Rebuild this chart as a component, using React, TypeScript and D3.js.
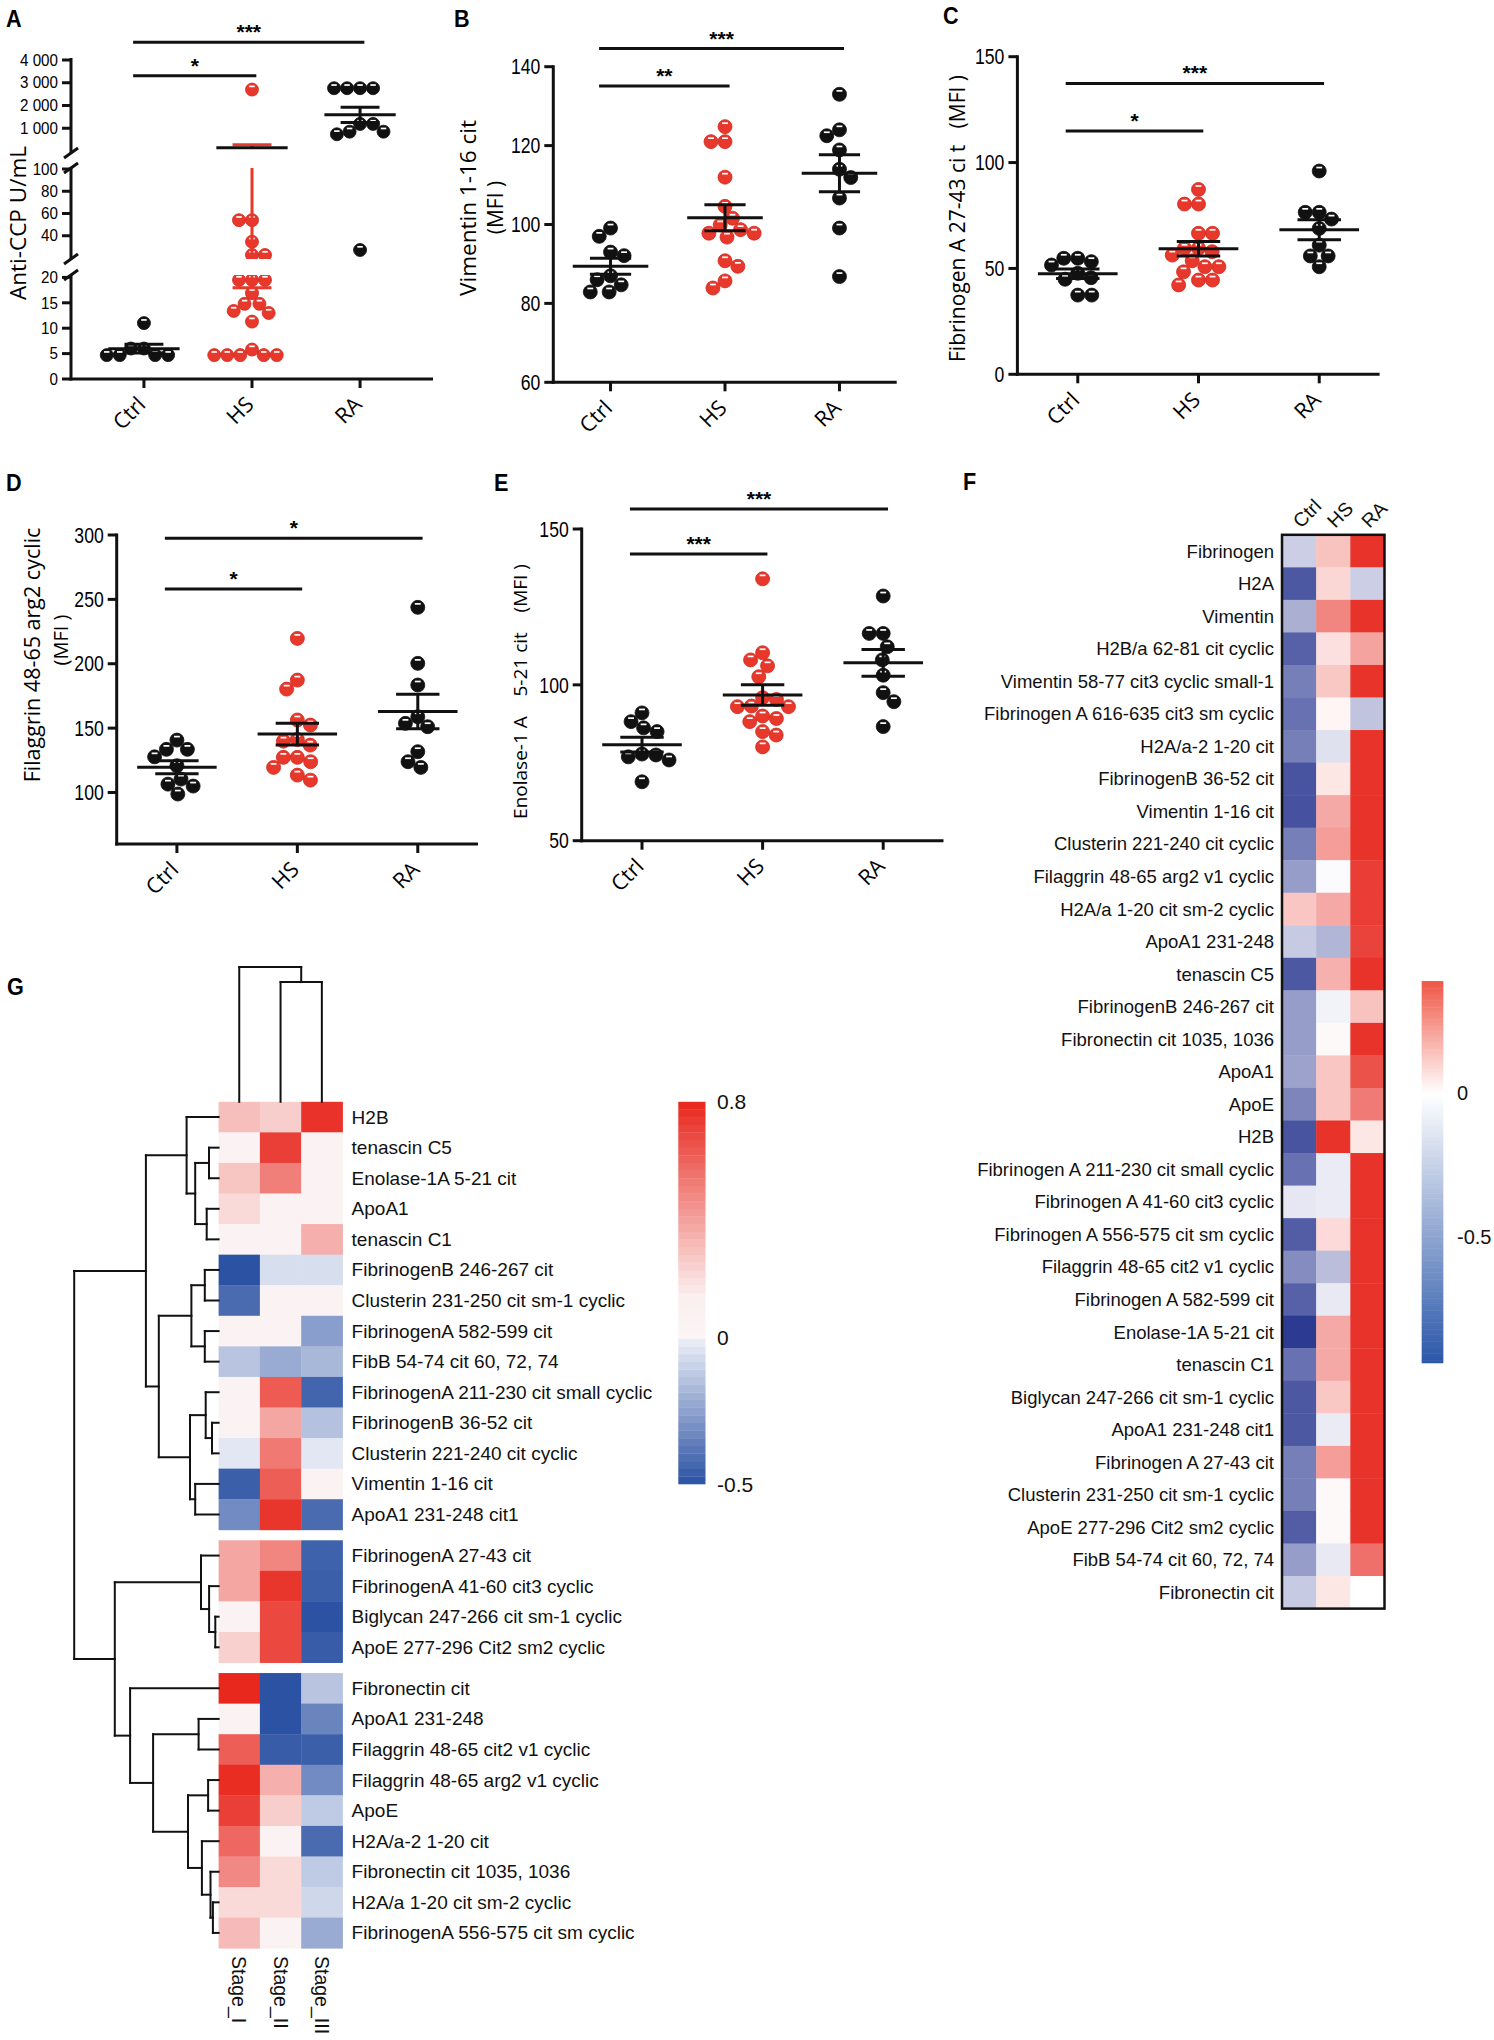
import React, { useEffect } from 'react';
import * as d3 from 'd3';

const RED = '#e8372b';
const INK = '#111111';
const SANS = '"Liberation Sans", Arial, Helvetica, sans-serif';
const OPEN = '"Open Sans", "Liberation Sans", Arial, sans-serif';

const groups = ['Ctrl', 'HS', 'RA'];

// ---------- A: Anti-CCP U/mL (broken axis)
const antiCcpCtrl = [11, 6.0, 6.0, 4.7, 4.7, 4.7, 4.7];
const antiCcpHS = [2700, 54, 54, 34.6, 22.7, 22.7, 19.5, 19.5, 19.5, 16.9, 14.8, 14.8, 13.4, 13.0, 11.3, 5.8, 4.7, 4.7, 4.7, 4.7, 4.7];
const antiCcpRA = [2760, 2760, 2760, 2760, 1190, 1190, 850, 850, 735, 27.2];
const antiCcpTicksTop = [1000, 2000, 3000, 4000];
const antiCcpTickLabelsTop = ['1 000', '2 000', '3 000', '4 000'];
const antiCcpTicksMid = [40, 60, 80, 100];
const antiCcpTicksLow = [0, 5, 10, 15, 20];
const antiCcpSig = [
  { from: 'Ctrl', to: 'HS', at: 3308, label: '*' },
  { from: 'Ctrl', to: 'RA', at: 4777, label: '***' },
];

// ---------- B: Vimentin 1-16 cit
const vimCtrl = [99.1, 97.0, 93.0, 92.1, 87.0, 86.0, 84.7, 82.9, 82.9];
const vimHS = [124.8, 121, 121, 112, 104.6, 101.6, 99.9, 98.7, 97.8, 97.8, 96.8, 90.8, 89.4, 85.7, 83.9];
const vimRA = [133, 124, 122.5, 118.9, 114, 111.9, 106.7, 99.1, 86.8];
const vimTicks = [60, 80, 100, 120, 140];
const vimSig = [
  { from: 'Ctrl', to: 'HS', at: 135.1, label: '**' },
  { from: 'Ctrl', to: 'RA', at: 144.6, label: '***' },
];

// ---------- C: Fibrinogen A 27-43 cit
const fibCtrl = [54.8, 54.8, 53.2, 51.6, 47.7, 44.9, 45.6, 37.4, 37.4];
const fibHS = [87.3, 80.4, 80.4, 66.6, 66.6, 59.5, 59.5, 57.9, 56.3, 53.6, 50.8, 50.8, 48.4, 44.5, 44.5, 42.2];
const fibRA = [96, 76.5, 76.5, 73.3, 68.9, 61, 55.9, 55.9, 50.8];
const fibTicks = [0, 50, 100, 150];
const fibSig = [
  { from: 'Ctrl', to: 'HS', at: 114.9, label: '*' },
  { from: 'Ctrl', to: 'RA', at: 137.4, label: '***' },
];

// ---------- D: Filaggrin 48-65 arg2 cyclic
const filCtrl = [140.7, 133.5, 133.5, 127.7, 120.8, 110.4, 106.5, 105.0, 98.8];
const filHS = [219.7, 187.3, 180.3, 156.3, 152.4, 141.2, 139.9, 136.8, 127.3, 127.3, 123.9, 119.5, 113.5, 109.6];
const filRA = [243.8, 200.3, 183.5, 158.8, 153.7, 151.1, 131.7, 123.9, 119.5];
const filTicks = [100, 150, 200, 250, 300];
const filSig = [
  { from: 'Ctrl', to: 'HS', at: 258, label: '*' },
  { from: 'Ctrl', to: 'RA', at: 297.4, label: '*' },
];

// ---------- E: Enolase-1 A 5-21 cit
const enoCtrl = [91.0, 88.2, 86.2, 85.0, 77.8, 77.5, 76.9, 75.9, 68.9];
const enoHS = [134, 110.3, 108, 106.1, 102.6, 95.9, 95.3, 93.2, 93.0, 93.0, 90.0, 89.2, 88.2, 85.0, 83.9, 80.1];
const enoRA = [128.5, 116.5, 116.5, 112.2, 108, 103.1, 97.5, 94.6, 86.6];
const enoTicks = [50, 100, 150];
const enoSig = [
  { from: 'Ctrl', to: 'HS', at: 142, label: '***' },
  { from: 'Ctrl', to: 'RA', at: 156.4, label: '***' },
];

// ---------- F: heatmap Ctrl / HS / RA
const fRows = [
  'Fibrinogen', 'H2A', 'Vimentin', 'H2B/a 62-81 cit cyclic', 'Vimentin 58-77 cit3 cyclic small-1',
  'Fibrinogen A 616-635 cit3 sm cyclic', 'H2A/a-2 1-20 cit', 'FibrinogenB 36-52 cit', 'Vimentin 1-16 cit',
  'Clusterin 221-240 cit cyclic', 'Filaggrin 48-65 arg2 v1 cyclic', 'H2A/a 1-20 cit sm-2 cyclic', 'ApoA1 231-248',
  'tenascin C5', 'FibrinogenB 246-267 cit', 'Fibronectin cit 1035, 1036', 'ApoA1', 'ApoE', 'H2B',
  'Fibrinogen A 211-230 cit small cyclic', 'Fibrinogen A 41-60 cit3 cyclic', 'Fibrinogen A 556-575 cit sm cyclic',
  'Filaggrin 48-65 cit2 v1 cyclic', 'Fibrinogen A 582-599 cit', 'Enolase-1A 5-21 cit', 'tenascin C1',
  'Biglycan 247-266 cit sm-1 cyclic', 'ApoA1 231-248 cit1', 'Fibrinogen A 27-43 cit', 'Clusterin 231-250 cit sm-1 cyclic',
  'ApoE 277-296 Cit2 sm2 cyclic', 'FibB 54-74 cit 60, 72, 74', 'Fibronectin cit',
];
const fCtrl = [-0.25, -0.85, -0.4, -0.8, -0.65, -0.72, -0.65, -0.87, -0.88, -0.65, -0.5, 0.28, -0.27, -0.85, -0.5, -0.5, -0.47, -0.62, -0.87, -0.72, -0.12, -0.82, -0.58, -0.8, -1.0, -0.72, -0.85, -0.85, -0.65, -0.65, -0.82, -0.5, -0.27];
const fHS = [0.3, 0.2, 0.6, 0.15, 0.27, 0.05, -0.15, 0.12, 0.42, 0.48, -0.02, 0.42, -0.37, 0.38, -0.06, 0.03, 0.28, 0.28, 1.0, -0.1, -0.1, 0.18, -0.33, -0.11, 0.42, 0.42, 0.27, -0.1, 0.48, 0.03, 0.03, -0.11, 0.12];
const fRA = [1, -0.25, 1, 0.45, 1, -0.3, 1, 1, 1, 1, 0.95, 0.95, 0.92, 1, 0.3, 1, 0.85, 0.65, 0.12, 1, 1, 1, 1, 1, 1, 1, 1, 1, 1, 1, 1, 0.7, 0.0];
const fLegendMin = -0.94;
const fLegendMax = 0.39;
const fLegendTicks = [0, -0.5];

// ---------- G: clustered heatmap by stage
const stages = ['Stage_I', 'Stage_II', 'Stage_III'];
const gRows = [
  'H2B', 'tenascin C5', 'Enolase-1A 5-21 cit', 'ApoA1', 'tenascin C1', 'FibrinogenB 246-267 cit',
  'Clusterin 231-250 cit sm-1 cyclic', 'FibrinogenA 582-599 cit', 'FibB 54-74 cit 60, 72, 74',
  'FibrinogenA 211-230 cit small cyclic', 'FibrinogenB 36-52 cit', 'Clusterin 221-240 cit cyclic',
  'Vimentin 1-16 cit', 'ApoA1 231-248 cit1', 'FibrinogenA 27-43 cit', 'FibrinogenA 41-60 cit3 cyclic',
  'Biglycan 247-266 cit sm-1 cyclic', 'ApoE 277-296 Cit2 sm2 cyclic', 'Fibronectin cit', 'ApoA1 231-248',
  'Filaggrin 48-65 cit2 v1 cyclic', 'Filaggrin 48-65 arg2 v1 cyclic', 'ApoE', 'H2A/a-2 1-20 cit',
  'Fibronectin cit 1035, 1036', 'H2A/a 1-20 cit sm-2 cyclic', 'FibrinogenA 556-575 cit sm cyclic',
];
const gStageI = [0.30, 0.05, 0.28, 0.21, 0.05, -0.5, -0.42, 0.05, -0.14, 0.05, 0.05, -0.03, -0.46, -0.32, 0.38, 0.38, 0.05, 0.24, 0.8, 0.05, 0.62, 0.78, 0.72, 0.59, 0.48, 0.21, 0.31];
const gStageII = [0.25, 0.72, 0.51, 0.05, 0.05, -0.06, 0.05, 0.05, -0.22, 0.63, 0.38, 0.53, 0.62, 0.75, 0.49, 0.75, 0.69, 0.69, -0.5, -0.5, -0.47, 0.35, 0.25, 0.05, 0.21, 0.21, 0.05];
const gStageIII = [0.76, 0.05, 0.04, 0.05, 0.35, -0.06, 0.05, -0.26, -0.18, -0.44, -0.15, -0.03, 0.05, -0.42, -0.45, -0.46, -0.5, -0.47, -0.14, -0.34, -0.46, -0.32, -0.12, -0.42, -0.12, -0.08, -0.22];
const gRowGroupSizes = [14, 4, 9];
const gLegendMin = -0.5;
const gLegendMax = 0.8;
const gLegendTicks = [0.8, 0, -0.5];

type Tree = number | { h: number; c: [Tree, Tree] };
const gRowTree: Tree = {
  h: 144.4, c: [
    { h: 72.7, c: [
      { h: 32, c: [0, { h: 23.4, c: [{ h: 9.6, c: [1, 2] }, { h: 11.9, c: [3, 4] }] }] },
      { h: 59.8, c: [
        { h: 27.2, c: [{ h: 13.8, c: [5, 6] }, { h: 13.8, c: [7, 8] }] },
        { h: 28.6, c: [{ h: 12.9, c: [9, { h: 6.6, c: [10, 11] }] }, { h: 23.4, c: [12, 13] }] },
      ] },
    ] },
    { h: 103.8, c: [
      { h: 17.6, c: [14, { h: 9.5, c: [15, { h: 3.3, c: [16, 17] }] }] },
      { h: 88.5, c: [18, { h: 65.5, c: [
        { h: 20, c: [19, 20] },
        { h: 30.6, c: [{ h: 10.5, c: [21, 22] }, { h: 16.7, c: [23, { h: 8.1, c: [24, { h: 5.7, c: [25, 26] }] }] }] },
      ] }] },
    ] },
  ],
};
const gColTree: Tree = { h: 134.7, c: [0, { h: 119.7, c: [1, 2] }] };

// ---------------------------------------------------------------
type Seg = { domain: [number, number]; range: [number, number]; axis: [number, number]; accept: [number, number]; ticks: number[]; labels?: string[] };
type Sig = { from: string; to: string; at: number; label: string };
type Title = { text: string; x: number; y: number; size: number };
type Panel = {
  id: string; letter: string; lx: number; ly: number;
  left: number; right: number; bottom: number; pad: number;
  segs: Seg[]; series: number[][]; sig: Sig[]; titles: Title[];
  tickSize: number; tickSX: number; r: number; errColors: string[];
};

function swarm(ys: number[], r: number): number[] {
  const d = 2 * r;
  const idx = ys.map((_, i) => i).sort((a, b) => ys[a] - ys[b]);
  const placed: { x: number; y: number }[] = [];
  const out = new Array(ys.length).fill(0);
  let flip = 1;
  for (const i of idx) {
    const y = ys[i];
    const cands = [0];
    for (const p of placed) {
      const dy = Math.abs(p.y - y);
      if (dy < d) {
        const o = Math.sqrt(d * d - dy * dy);
        cands.push(p.x + o, p.x - o);
      }
    }
    const ok = (x: number) => placed.every(p => (p.x - x) ** 2 + (p.y - y) ** 2 >= d * d - 0.5);
    const valid = cands.filter(ok);
    valid.sort((a, b) => {
      const da = Math.abs(a), db = Math.abs(b);
      if (Math.abs(da - db) > 0.05) return da - db;
      return (a - b) * flip;
    });
    const x = valid.length ? valid[0] : 0;
    if (Math.abs(x) > 0.05) flip = -flip;
    out[i] = x;
    placed.push({ x, y });
  }
  return out;
}

function Dot({ x, y, r, red }: { x: number; y: number; r: number; red: boolean }) {
  return (
    <g>
      <circle cx={x} cy={y} r={r} fill={red ? RED : INK} stroke={red ? '#cf2a1f' : INK} strokeWidth={0.8} />
      <rect x={x - r * 0.42} y={y - r * 0.62} width={r * 0.84} height={1.7} fill="#ffffff" />
    </g>
  );
}

function Letter({ x, y, ch }: { x: number; y: number; ch: string }) {
  return (
    <text x={0} y={0} transform={`translate(${x},${y}) scale(0.9,1)`} fontFamily={SANS} fontWeight="bold" fontSize={24} fill="#000">{ch}</text>
  );
}

function ScatterPanel({ p }: { p: Panel }) {
  const x = d3.scalePoint<string>().domain(groups).range([p.left, p.right]).padding(p.pad);
  const step = x.step();
  const sc = (s: Seg) => d3.scaleLinear().domain(s.domain).range(s.range);
  const segOf = (v: number) => p.segs.find(s => v >= s.accept[0] && v < s.accept[1]) || p.segs[p.segs.length - 1];
  const yOf = (v: number) => sc(segOf(v))(v);
  const broken = p.segs.length > 1;

  const groupsData = p.series.map((vals, gi) => {
    const ys = vals.map(yOf);
    const dx = swarm(ys, p.r);
    const m = d3.mean(vals) as number;
    const sem = (d3.deviation(vals) as number) / Math.sqrt(vals.length);
    return { gi, vals, ys, dx, m, sem, cx: x(groups[gi]) as number };
  });

  const lw = 3;
  return (
    <g>
      {broken && (
        <defs>
          {p.segs.map((s, k) => (
            <clipPath id={`${p.id}-clip-${k}`} key={k}>
              <rect x={p.left + 1} y={s.axis[0]} width={p.right - p.left + 20} height={s.axis[1] - s.axis[0]} />
            </clipPath>
          ))}
        </defs>
      )}
      <Letter x={p.lx} y={p.ly} ch={p.letter} />

      {p.segs.map((s, k) => {
        const y = sc(s);
        return (
          <g key={k} clipPath={broken ? `url(#${p.id}-clip-${k})` : undefined}>
            {groupsData.map(g => g.vals.map((v, i) => (segOf(v) === s ? (
              <Dot key={`${g.gi}-${i}`} x={g.cx + g.dx[i]} y={g.ys[i]} r={p.r} red={g.gi === 1} />
            ) : null)))}
            {groupsData.map(g => {
              const lo = Math.max(g.m - g.sem, s.accept[0]);
              const hi = Math.min(g.m + g.sem, s.accept[1]);
              const ec = p.errColors[g.gi];
              return (
                <g key={`e${g.gi}`}>
                  {lo < hi && <line x1={g.cx} x2={g.cx} y1={y(lo)} y2={y(hi)} stroke={ec} strokeWidth={lw} />}
                  {[g.m - g.sem, g.m + g.sem].map((v, j) => segOf(v) === s ? (
                    <line key={j} x1={g.cx - step * 0.18} x2={g.cx + step * 0.18} y1={y(v)} y2={y(v)} stroke={ec} strokeWidth={lw} />
                  ) : null)}
                  {segOf(g.m) === s && (
                    <line x1={g.cx - step * 0.33} x2={g.cx + step * 0.33} y1={y(g.m)} y2={y(g.m)} stroke={INK} strokeWidth={lw} />
                  )}
                </g>
              );
            })}
          </g>
        );
      })}

      {p.segs.map((s, k) => {
        const y = sc(s);
        const isLast = k === p.segs.length - 1;
        return (
          <g key={`ax${k}`}>
            <line x1={p.left} x2={p.left} y1={s.axis[0]} y2={isLast ? s.axis[1] + 1.5 : s.axis[1]} stroke={INK} strokeWidth={lw} />
            {broken && k < p.segs.length - 1 && (
              <line x1={p.left - 7} y1={s.axis[1] + 5} x2={p.left + 7} y2={s.axis[1] - 5} stroke={INK} strokeWidth={lw} />
            )}
            {broken && k > 0 && (
              <line x1={p.left - 7} y1={s.axis[0] + 5} x2={p.left + 7} y2={s.axis[0] - 5} stroke={INK} strokeWidth={lw} />
            )}
            {s.ticks.map((t, i) => (
              <g key={t}>
                <line x1={p.left - 9} x2={p.left} y1={y(t)} y2={y(t)} stroke={INK} strokeWidth={lw} />
                <text transform={`translate(${p.left - 13},${y(t)}) scale(${p.tickSX},1)`} textAnchor="end" dominantBaseline="central"
                  fontFamily={SANS} fontSize={p.tickSize} fill="#000">{s.labels ? s.labels[i] : String(t)}</text>
              </g>
            ))}
          </g>
        );
      })}

      <line x1={p.left - 1.5} x2={p.right} y1={p.bottom} y2={p.bottom} stroke={INK} strokeWidth={lw} />
      {groups.map(gname => {
        const cx = x(gname) as number;
        return (
          <g key={gname}>
            <line x1={cx} x2={cx} y1={p.bottom} y2={p.bottom + 9} stroke={INK} strokeWidth={lw} />
            <text transform={`translate(${cx + 3},${p.bottom + 27}) rotate(-45)`} textAnchor="end" fontFamily={OPEN} fontSize={21.5} fill="#000">{gname}</text>
          </g>
        );
      })}

      {p.titles.map((t, i) => (
        <text key={i} transform={`translate(${t.x},${t.y}) rotate(-90)`} textAnchor="middle" dominantBaseline="central"
          fontFamily={OPEN} fontSize={t.size} fill="#000" style={{ whiteSpace: 'pre' }}>{t.text}</text>
      ))}

      {p.sig.map((s, i) => {
        const yb = yOf(s.at);
        const x1 = (x(s.from) as number) - step * 0.1;
        const x2 = (x(s.to) as number) + step * 0.04;
        return (
          <g key={i}>
            <line x1={x1} x2={x2} y1={yb} y2={yb} stroke={INK} strokeWidth={lw} />
            <text x={(x1 + x2) / 2} y={yb - 3} textAnchor="middle" fontFamily={SANS} fontWeight="bold" fontSize={21} fill="#000">{s.label}</text>
          </g>
        );
      })}
    </g>
  );
}

function dendro(t: Tree, leafPos: (i: number) => number, hPos: (h: number) => number, lines: number[][]): [number, number] {
  if (typeof t === 'number') return [leafPos(t), hPos(0)];
  const [p1, q1] = dendro(t.c[0], leafPos, hPos, lines);
  const [p2, q2] = dendro(t.c[1], leafPos, hPos, lines);
  const q = hPos(t.h);
  lines.push([p1, q1, p1, q], [p2, q2, p2, q], [p1, q, p2, q]);
  return [(p1 + p2) / 2, q];
}

function HeatmapF() {
  const x = d3.scaleBand<string>().domain(groups).range([1282, 1384.5]);
  const y = d3.scaleBand<number>().domain(d3.range(fRows.length)).range([534.8, 1608.6]);
  const cols = [fCtrl, fHS, fRA];
  const color = d3.scaleLinear<string>().domain([-1, 0, 1]).range(['#2d3a92', '#ffffff', '#e8332a']);
  const legColor = d3.scaleLinear<string>().domain([fLegendMin, 0, fLegendMax]).range(['#2a56a8', '#ffffff', '#ef5646']);
  const leg = d3.scaleLinear().domain([-0.5, 0]).range([1236.5, 1093]);
  const nSteps = 160;
  const stepV = (fLegendMax - fLegendMin) / nSteps;
  return (
    <g>
      <Letter x={963} y={490} ch="F" />
      {cols.map((vals, ci) => vals.map((v, ri) => (
        <rect key={`${ci}-${ri}`} x={x(groups[ci])} y={y(ri)} width={x.bandwidth() + 0.4} height={y.bandwidth() + 0.4} fill={color(v)} />
      )))}
      <rect x={1282} y={534.8} width={1384.5 - 1282} height={1608.6 - 534.8} fill="none" stroke={INK} strokeWidth={2.5} />
      {fRows.map((name, ri) => (
        <text key={ri} x={1274} y={(y(ri) as number) + y.bandwidth() / 2} textAnchor="end" dominantBaseline="central"
          fontFamily={SANS} fontSize={18.5} fill="#111">{name}</text>
      ))}
      {groups.map(gname => (
        <text key={gname} transform={`translate(${(x(gname) as number) + x.bandwidth() / 2 + 2},529) rotate(-45)`} fontFamily={SANS} fontSize={19.5} fill="#111">{gname}</text>
      ))}
      {d3.range(nSteps).map(i => {
        const v0 = fLegendMin + i * stepV;
        return <rect key={i} x={1421.7} width={21.6} y={leg(v0 + stepV)} height={leg(v0) - leg(v0 + stepV) + 0.5} fill={legColor(v0 + stepV / 2)} />;
      })}
      {fLegendTicks.map(t => (
        <text key={t} x={1457} y={leg(t)} dominantBaseline="central" fontFamily={SANS} fontSize={20} fill="#111">{String(t)}</text>
      ))}
    </g>
  );
}

function HeatmapG() {
  const x = d3.scaleBand<string>().domain(stages).range([218.6, 342.5]);
  const rowH = 30.57, gap = 10.5, top = 1101.8;
  const bounds = d3.cumsum(gRowGroupSizes);
  const grp = (i: number) => bounds.filter(b => b <= i).length;
  const rowTop = (i: number) => top + i * rowH + grp(i) * gap;
  const cols = [gStageI, gStageII, gStageIII];
  const color = d3.scaleLinear<string>().domain([-0.5, 0, 0.0001, 0.14, 0.8])
    .range(['#2c52a3', '#eef1f8', '#fbf5f5', '#fbefef', '#e8271d']).clamp(true);
  const leg = d3.scaleLinear().domain([gLegendMin, gLegendMax]).range([1484, 1101.8]);
  const nBands = 50;
  const bandV = (gLegendMax - gLegendMin) / nBands;

  const rowLines: number[][] = [];
  const rowH0 = d3.scaleLinear().domain([0, 144.4]).range([218.6, 74.2]);
  dendro(gRowTree, i => rowTop(i) + rowH / 2, rowH0, rowLines);
  const colLines: number[][] = [];
  const colH0 = d3.scaleLinear().domain([0, 134.7]).range([1101.8, 967.1]);
  dendro(gColTree, i => (x(stages[i]) as number) + x.bandwidth() / 2, colH0, colLines);

  return (
    <g>
      <Letter x={7} y={995} ch="G" />
      {cols.map((vals, ci) => vals.map((v, ri) => (
        <rect key={`${ci}-${ri}`} x={x(stages[ci])} y={rowTop(ri)} width={x.bandwidth() + 0.4} height={rowH + 0.4} fill={color(v)} />
      )))}
      {gRows.map((name, ri) => (
        <text key={ri} x={351.6} y={rowTop(ri) + rowH / 2} dominantBaseline="central" fontFamily={SANS} fontSize={19} fill="#111">{name}</text>
      ))}
      {stages.map(s => (
        <text key={s} transform={`translate(${(x(s) as number) + x.bandwidth() / 2},1956) rotate(90)`} dominantBaseline="central"
          fontFamily={SANS} fontSize={19.5} fill="#111">{s}</text>
      ))}
      {rowLines.map((l, i) => (
        <line key={`r${i}`} x1={l[1]} y1={l[0]} x2={l[3]} y2={l[2]} stroke={INK} strokeWidth={2} strokeLinecap="square" />
      ))}
      {colLines.map((l, i) => (
        <line key={`c${i}`} x1={l[0]} y1={l[1]} x2={l[2]} y2={l[3]} stroke={INK} strokeWidth={2} strokeLinecap="square" />
      ))}
      {d3.range(nBands).map(i => {
        const v0 = gLegendMin + i * bandV;
        return <rect key={i} x={678.3} width={27.2} y={leg(v0 + bandV)} height={leg(v0) - leg(v0 + bandV) + 0.3} fill={color(v0 + bandV / 2)} />;
      })}
      {gLegendTicks.map(t => (
        <text key={t} x={717} y={leg(t)} dominantBaseline="central" fontFamily={SANS} fontSize={21} fill="#111">{String(t)}</text>
      ))}
    </g>
  );
}

export default function App() {
  useEffect(() => {
    document.body.style.margin = '0';
    document.body.style.overflow = 'hidden';
  }, []);

  const single = (domain: [number, number], range: [number, number], ticks: number[]): Seg[] => [
    { domain, range, axis: [range[1] - 1.5, range[0]], accept: [-Infinity, Infinity], ticks },
  ];

  const panels: Panel[] = [
    {
      id: 'A', letter: 'A', lx: 6, ly: 27, left: 71, right: 433, bottom: 379, pad: 0.675,
      segs: [
        { domain: [0, 4000], range: [151, 60], axis: [58, 153], accept: [101, Infinity], ticks: antiCcpTicksTop, labels: antiCcpTickLabelsTop },
        { domain: [20, 100], range: [258, 169], axis: [168, 259], accept: [20.4, 101], ticks: antiCcpTicksMid },
        { domain: [0, 20], range: [379, 277.4], axis: [275, 379], accept: [-Infinity, 20.4], ticks: antiCcpTicksLow },
      ],
      series: [antiCcpCtrl, antiCcpHS, antiCcpRA], sig: antiCcpSig,
      titles: [{ text: 'Anti-CCP U/mL', x: 17, y: 223, size: 22.5 }],
      tickSize: 16.5, tickSX: 0.92, r: 6.5, errColors: [INK, RED, INK],
    },
    {
      id: 'B', letter: 'B', lx: 454, ly: 27, left: 553.3, right: 896.7, bottom: 382.3, pad: 0.5,
      segs: single([60, 140], [382.3, 66.7], vimTicks),
      series: [vimCtrl, vimHS, vimRA], sig: vimSig,
      titles: [{ text: 'Vimentin 1-16 cit', x: 467, y: 208, size: 22.5 }, { text: '(MFI )', x: 495, y: 207.5, size: 21 }],
      tickSize: 22, tickSX: 0.8, r: 7, errColors: [INK, INK, INK],
    },
    {
      id: 'C', letter: 'C', lx: 943, ly: 24, left: 1017.4, right: 1379.6, bottom: 374.3, pad: 0.5,
      segs: single([0, 150], [374.3, 56.7], fibTicks),
      series: [fibCtrl, fibHS, fibRA], sig: fibSig,
      titles: [{ text: 'Fibrinogen A 27-43 ci t   (MFI )', x: 957, y: 218.5, size: 21 }],
      tickSize: 22, tickSX: 0.8, r: 7, errColors: [INK, INK, INK],
    },
    {
      id: 'D', letter: 'D', lx: 6, ly: 491, left: 116.7, right: 478, bottom: 844, pad: 0.5,
      segs: single([60, 300], [844, 535], filTicks),
      series: [filCtrl, filHS, filRA], sig: filSig,
      titles: [{ text: 'Filaggrin 48-65 arg2 cyclic', x: 31.7, y: 655, size: 21.5 }, { text: '(MFI )', x: 60, y: 640, size: 20 }],
      tickSize: 22, tickSX: 0.8, r: 7, errColors: [INK, INK, INK],
    },
    {
      id: 'E', letter: 'E', lx: 494, ly: 491, left: 581.7, right: 943.5, bottom: 840.7, pad: 0.5,
      segs: single([50, 150], [840.7, 529], enoTicks),
      series: [enoCtrl, enoHS, enoRA], sig: enoSig,
      titles: [{ text: 'Enolase-1 A    5-21 cit    (MFI )', x: 520, y: 691.5, size: 19 }],
      tickSize: 22, tickSX: 0.8, r: 7, errColors: [INK, INK, INK],
    },
  ];

  return (
    <svg width={1494} height={2040} viewBox="0 0 1494 2040" xmlns="http://www.w3.org/2000/svg"
      style={{ display: 'block', position: 'absolute', left: 0, top: 0, background: '#fff' }}>
      <rect width={1494} height={2040} fill="#ffffff" />
      {panels.map(p => <ScatterPanel key={p.id} p={p} />)}
      <HeatmapF />
      <HeatmapG />
    </svg>
  );
}
